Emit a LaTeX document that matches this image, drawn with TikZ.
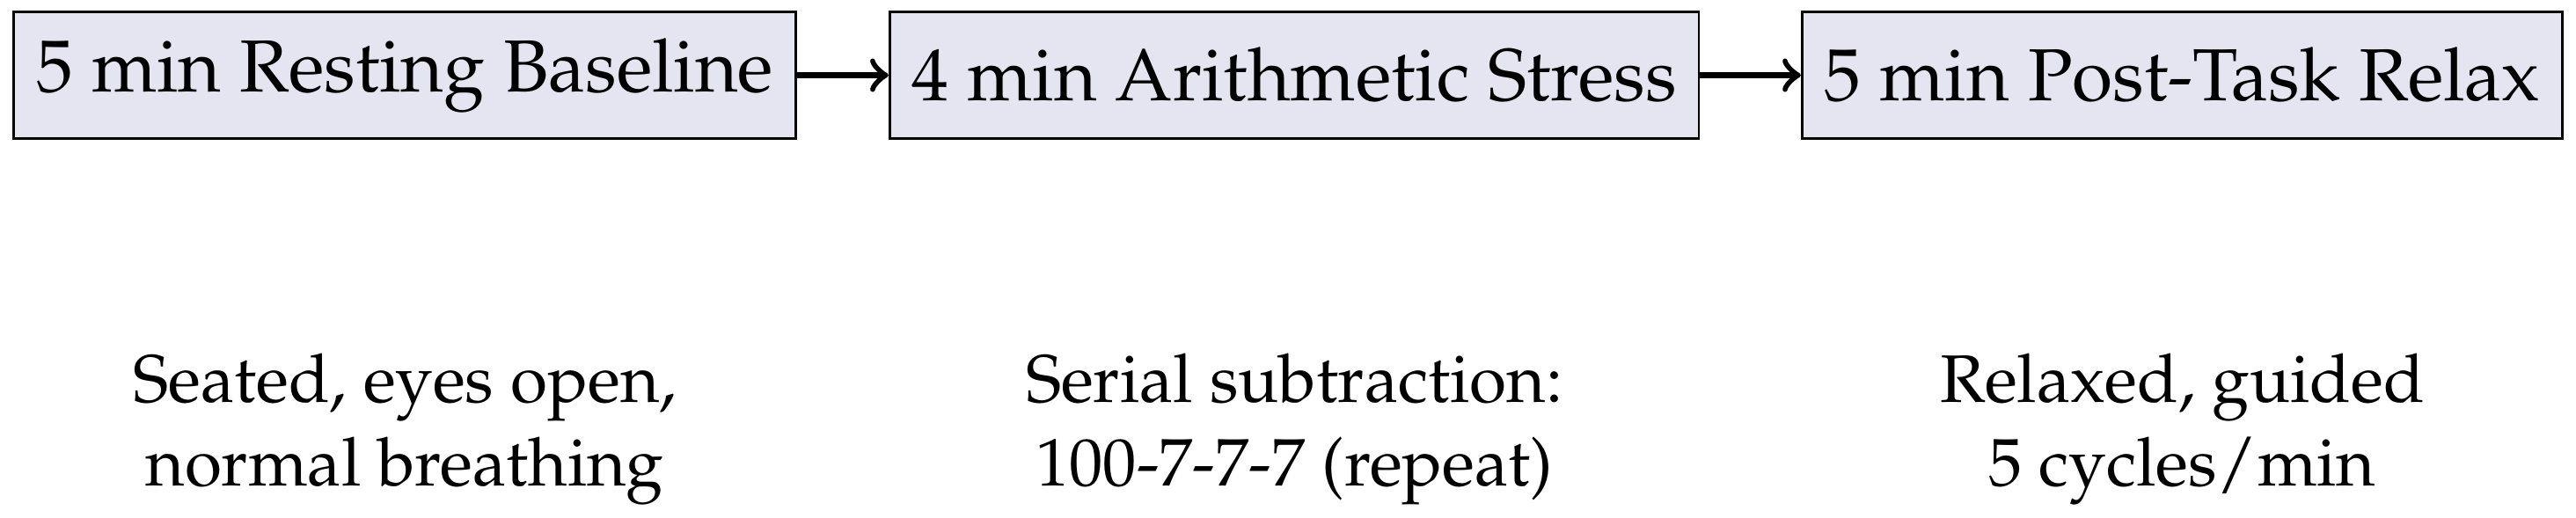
\documentclass[tikz,border=0pt,11pt]{standalone}
\usepackage[T1]{fontenc}
\usepackage{mathpazo}
\usetikzlibrary{positioning}
\definecolor{phasefill}{RGB}{229,228,241}

\begin{document}
\begin{tikzpicture}[node distance=1.09cm]
\tikzstyle{phase}=[rectangle,draw,fill=phasefill,minimum height=7.2mm,font=\large]
\tikzstyle{note}=[align=center]
\tikzstyle{link}=[->,line width=1pt]
\useasboundingbox (0,0) rectangle (14.72,-2.961);
\node[phase] (rest) at (2.313,-0.43) {5 min Resting Baseline};
\node[phase] (stress) at (7.396,-0.43) {4 min Arithmetic Stress};
\node[phase] (relax) at (12.47,-0.43) {5 min Post-Task Relax};
\draw[link] (rest)--(stress);
\draw[link] (stress)--(relax);
\node[note,below=of rest] (restnote) {Seated, eyes open,\\normal breathing};
\node[note,below=of stress] (stressnote) {Serial subtraction:\\100-7-7-7 (repeat)};
\node[note,below=of relax] (relaxnote) {Relaxed, guided\\5 cycles/min};
\end{tikzpicture}
\end{document}
